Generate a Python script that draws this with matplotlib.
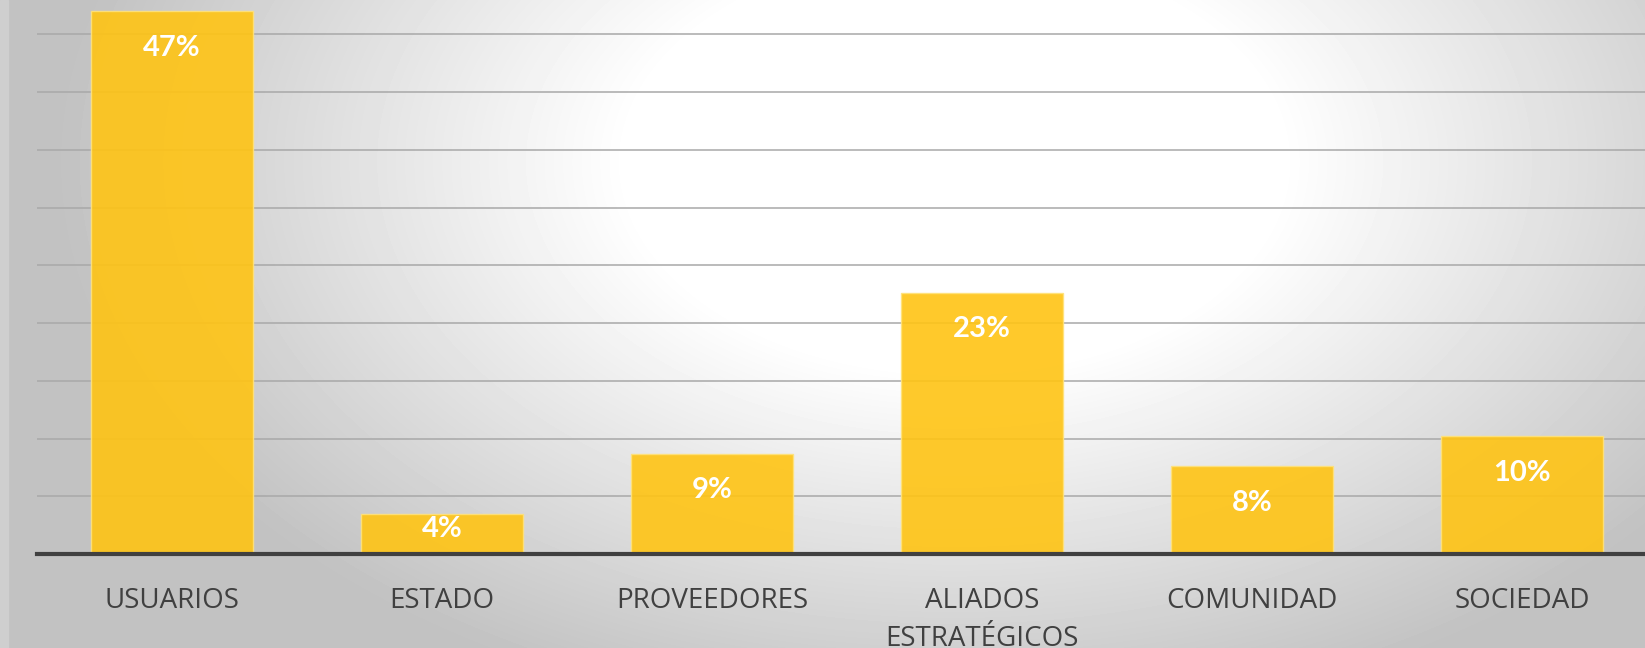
import numpy as np
import matplotlib
matplotlib.use("Agg")
import matplotlib.pyplot as plt

plt.rcParams['font.family'] = ['Open Sans', 'DejaVu Sans']

categorias = ['USUARIOS', 'ESTADO', 'PROVEEDORES', 'ALIADOS\nESTRATÉGICOS', 'COMUNIDAD', 'SOCIEDAD']
valores = [47, 3.5, 8.7, 22.6, 7.6, 10.2]
etiquetas = ['47%', '4%', '9%', '23%', '8%', '10%']

W, H = 1645, 648
fig = plt.figure(figsize=(W / 100, H / 100), dpi=100)

# fondo con degradado radial
bg = fig.add_axes([0, 0, 1, 1], zorder=0)
yy, xx = np.mgrid[0:H, 0:W]
d = np.sqrt(((xx - 0.58 * W) / (0.62 * W)) ** 2 + ((yy - 0.25 * H) / (1.0 * H)) ** 2)
g = np.clip(1.0 - 0.30 * np.clip(d - 0.32, 0, None) / 0.7, 0.76, 1.0)
bg.imshow(g, cmap='gray', vmin=0, vmax=1, aspect='auto', interpolation='bilinear')
bg.axvspan(-0.5, 7, color='#cfcfcf')
bg.set_xlim(-0.5, W - 0.5)
bg.set_ylim(H - 0.5, -0.5)
bg.axis('off')

ax = fig.add_axes([37 / W, 94 / H, 1620 / W, 554 / H], zorder=1)
ax.patch.set_alpha(0)
x = np.arange(len(categorias))
ax.bar(x, valores, width=0.6, color='#FFC414', alpha=0.9,
       edgecolor='#FFE27A', linewidth=1, zorder=3)

for xi, v, t in zip(x, valores, etiquetas):
    ax.text(xi, max(v - 3.15, 2.2), t, ha='center', va='center',
            color='white', fontsize=21, fontweight='bold',
            family=['Lato', 'DejaVu Sans'], zorder=4)

ax.set_xlim(-0.5, 5.5)
ax.set_ylim(0, 554 / 11.55)
ax.set_yticks(np.arange(5, 50, 5))
ax.yaxis.grid(True, color='#a8a8a8', linewidth=1.1, zorder=1)
ax.tick_params(axis='y', left=False, labelleft=False)
ax.set_xticks(x)
ax.set_xticklabels(categorias, fontsize=20, color='#404040', linespacing=1.45)
ax.tick_params(axis='x', length=0, pad=24)
for s in ['top', 'right', 'left']:
    ax.spines[s].set_visible(False)
ax.spines['bottom'].set_color('#404040')
ax.spines['bottom'].set_linewidth(3)
ax.spines['bottom'].set_zorder(5)

fig.savefig('out.png', dpi=100)
